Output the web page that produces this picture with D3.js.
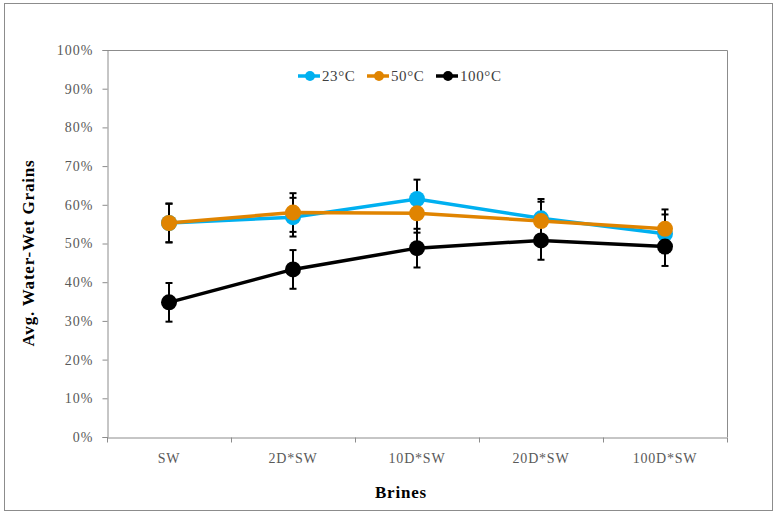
<!DOCTYPE html>
<html>
<head>
<meta charset="utf-8">
<script src="https://cdn.jsdelivr.net/npm/d3@7"></script>
<style>
  body { margin: 0; background: #fff; }
  text { font-family: "Liberation Serif", "DejaVu Serif", serif; }
</style>
</head>
<body>
<div id="chart"></div>
<script>
// chart data
var brines = ["SW", "2D*SW", "10D*SW", "20D*SW", "100D*SW"];
var seriesNames = ["23°C", "50°C", "100°C"];
var seriesColors = ["#00B0F0", "#E08400", "#000000"];
var wet23 = [0.553, 0.568, 0.615, 0.565, 0.525];
var wet50 = [0.553, 0.580, 0.578, 0.558, 0.538];
var wet100 = [0.348, 0.433, 0.488, 0.508, 0.492];
var err23 = [0.05, 0.05, 0.05, 0.05, 0.05];
var err50 = [0.05, 0.05, 0.05, 0.05, 0.05];
var err100 = [0.05, 0.05, 0.05, 0.05, 0.05];
var yTicks = [0, 0.1, 0.2, 0.3, 0.4, 0.5, 0.6, 0.7, 0.8, 0.9, 1.0];

var svgWidth = 776;
var svgHeight = 515;
var margin = { top: 50, right: 49, bottom: 78, left: 107 };
var chartWidth = svgWidth - margin.left - margin.right;
var chartHeight = svgHeight - margin.top - margin.bottom;

var svg = d3.select("#chart")
  .append("svg")
  .attr("width", svgWidth)
  .attr("height", svgHeight);

// outer frame
svg.append("rect")
  .attr("x", 4.5).attr("y", 3.5)
  .attr("width", 768).attr("height", 507)
  .attr("fill", "none")
  .attr("stroke", "#8c8c8c")
  .attr("stroke-width", 1);

var chartGroup = svg.append("g")
  .attr("transform", `translate(${margin.left}, ${margin.top})`);

var xScale = d3.scaleBand()
  .domain(brines)
  .range([0, chartWidth]);

var yScale = d3.scaleLinear()
  .domain([0, 1])
  .range([chartHeight, 0]);

// plot area border (top + right)
chartGroup.append("path")
  .attr("d", `M0.5,0.5H${chartWidth + 0.5}V${chartHeight}`)
  .attr("fill", "none")
  .attr("stroke", "#8c8c8c");

// y axis
var leftAxis = d3.axisLeft(yScale)
  .tickValues(yTicks)
  .tickFormat(d3.format(".0%"))
  .tickSize(5)
  .tickPadding(9);
var yAxis = chartGroup.append("g")
  .attr("transform", "translate(0.5,0)")
  .call(leftAxis);
yAxis.select(".domain").attr("stroke", "#8c8c8c");
yAxis.selectAll(".tick line").attr("stroke", "#8c8c8c");
yAxis.selectAll("text")
  .attr("fill", "#595959")
  .style("font-size", "14px")
  .style("letter-spacing", "1px");

// x axis with ticks on category boundaries
var bottomAxis = d3.axisBottom(xScale).tickSize(0).tickPadding(16);
var xAxis = chartGroup.append("g")
  .attr("transform", `translate(0, ${chartHeight + 0.5})`)
  .call(bottomAxis);
xAxis.select(".domain").attr("stroke", "#8c8c8c");
xAxis.selectAll("text")
  .attr("fill", "#595959")
  .style("font-size", "14px")
  .style("letter-spacing", "0.8px");
var boundaries = brines.map(d => xScale(d)).concat([chartWidth]);
xAxis.selectAll(".bound")
  .data(boundaries)
  .enter()
  .append("line")
  .attr("x1", d => d + 0.5).attr("x2", d => d + 0.5)
  .attr("y1", 0).attr("y2", 5)
  .attr("stroke", "#8c8c8c");

// axis titles
chartGroup.append("text")
  .attr("transform", "rotate(-90)")
  .attr("x", -(253 - margin.top))
  .attr("y", -73)
  .attr("text-anchor", "middle")
  .style("font-size", "17px")
  .style("font-weight", "bold")
  .style("letter-spacing", "0.8px")
  .text("Avg. Water-Wet Grains");

chartGroup.append("text")
  .attr("x", 401 - margin.left)
  .attr("y", chartHeight + 61)
  .attr("text-anchor", "middle")
  .style("font-size", "17px")
  .style("font-weight", "bold")
  .style("letter-spacing", "0.8px")
  .text("Brines");

var series = [
  { name: seriesNames[0], color: seriesColors[0], values: wet23, errs: err23 },
  { name: seriesNames[1], color: seriesColors[1], values: wet50, errs: err50 },
  { name: seriesNames[2], color: seriesColors[2], values: wet100, errs: err100 }
];

var cx = i => xScale(brines[i]) + xScale.bandwidth() / 2;

// error bars first (drawn under everything)
series.forEach(function(s) {
  var eg = chartGroup.append("g");
  s.values.forEach(function(v, i) {
    var x = cx(i);
    var hi = yScale(v + s.errs[i]);
    var lo = yScale(v - s.errs[i]);
    eg.append("line")
      .attr("x1", x).attr("x2", x).attr("y1", hi).attr("y2", lo)
      .attr("stroke", "#000").attr("stroke-width", 2);
    [hi, lo].forEach(function(y) {
      eg.append("line")
        .attr("x1", x - 3.5).attr("x2", x + 3.5).attr("y1", y).attr("y2", y)
        .attr("stroke", "#000").attr("stroke-width", 2);
    });
  });
});

var line = d3.line()
  .x((d, i) => cx(i))
  .y(d => yScale(d));

series.forEach(function(s) {
  chartGroup.append("path")
    .datum(s.values)
    .attr("d", line)
    .attr("fill", "none")
    .attr("stroke", s.color)
    .attr("stroke-width", 3.5);
  chartGroup.selectAll(null)
    .data(s.values)
    .enter()
    .append("circle")
    .attr("cx", (d, i) => cx(i))
    .attr("cy", d => yScale(d))
    .attr("r", 8)
    .attr("fill", s.color);
});

// legend
var legendX = [298, 367, 436];
var legend = chartGroup.append("g")
  .attr("transform", `translate(${-margin.left}, ${76 - margin.top})`);
series.forEach(function(s, i) {
  var lg = legend.append("g").attr("transform", `translate(${legendX[i]}, 0)`);
  lg.append("line")
    .attr("x1", 0).attr("x2", 22).attr("y1", 0).attr("y2", 0)
    .attr("stroke", s.color).attr("stroke-width", 3.5);
  lg.append("circle")
    .attr("cx", 12).attr("cy", 0).attr("r", 5)
    .attr("fill", s.color);
  lg.append("text")
    .attr("x", 24).attr("y", 5)
    .attr("fill", "#404040")
    .style("font-size", "15px")
    .style("letter-spacing", "0.6px")
    .text(s.name);
});
</script>
</body>
</html>
